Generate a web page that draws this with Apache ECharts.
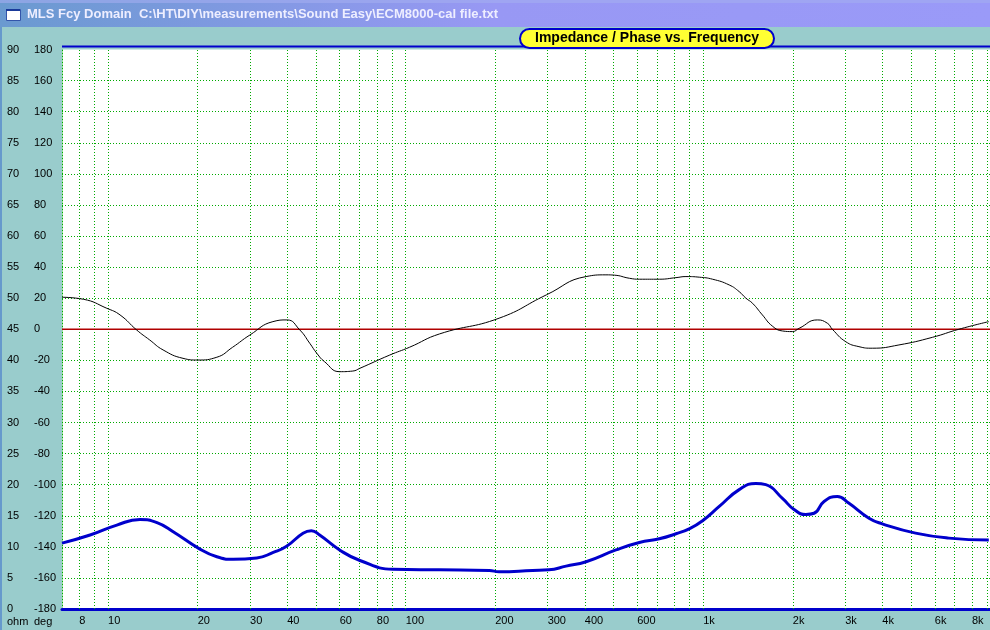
<!DOCTYPE html>
<html>
<head>
<meta charset="utf-8">
<script src="https://cdn.jsdelivr.net/npm/echarts@6/dist/echarts.min.js"></script>
<style>
html,body{margin:0;padding:0;background:#99cccc;}
#chart{width:990px;height:630px;}
</style>
</head>
<body>
<div id="chart"></div>
<script>
// Impedance (ohm, left scale) – thick blue trace
const impFreq = [7, 8.7, 10.7, 12.8, 14.6, 16.6, 20.1, 23.2, 26.3, 31.6, 35.9, 39.8, 45.2, 48.2, 51.4, 60, 70.2, 90.6, 130, 191, 206, 267, 303, 346, 404, 509, 610, 712, 810, 897, 995, 1132, 1321, 1502, 1623, 1846, 2020, 2211, 2358, 2547, 2823, 3090, 3606, 3997, 5172, 6692, 9115];
const impOhm = [10.6, 11.9, 13.5, 14.4, 13.9, 12.4, 9.8, 8.4, 8.0, 8.2, 9.1, 10.1, 12.2, 12.6, 11.9, 9.5, 7.8, 6.4, 6.3, 6.2, 6.0, 6.2, 6.3, 6.9, 7.6, 9.5, 10.7, 11.3, 12.1, 12.9, 14.2, 16.5, 19.2, 20.2, 20.0, 17.8, 16.0, 15.2, 15.4, 17.3, 18.1, 17.0, 14.6, 13.7, 12.2, 11.4, 11.1];

// Phase (deg, second scale) – thin black trace
const phaseFreq = [7, 8.26, 9.9, 10.97, 12.48, 13.8, 15.3, 17.85, 20, 23.2, 26.2, 29.96, 35.8, 39.9, 44.1, 47.6, 50.3, 53.4, 60, 66.4, 70.2, 88.4, 103, 130, 206, 297, 404, 471, 503, 565, 610, 712, 810, 875, 970, 1075, 1223, 1321, 1391, 1465, 1581, 1706, 1846, 1994, 2100, 2418, 2613, 2716, 3012, 3337, 3700, 4547, 5890, 7230, 9115];
const phaseDeg = [20.6, 19.3, 13.5, 9.2, -0.5, -6.9, -13.3, -18.7, -19.8, -18.0, -11.6, -3.7, 4.9, 6.0, -0.5, -9.0, -15.5, -20.9, -27.3, -26.9, -25.1, -16.6, -11.6, -3.0, 7.1, 22.1, 33.9, 35.0, 34.8, 32.8, 32.2, 32.2, 33.2, 33.9, 33.5, 32.2, 28.5, 24.2, 20.0, 16.7, 9.2, 2.1, -1.1, -1.5, 0.6, 6.0, 3.9, 0, -8.0, -11.2, -12.2, -10.1, -5.2, 0, 4.9];

// Frequency grid lines and tick labels
const gridFreqs = [8, 9, 10, 20, 30, 40, 50, 60, 70, 80, 90, 100, 200, 300, 400, 500, 600, 700, 800, 900, 1000, 2000, 3000, 4000, 5000, 6000, 7000, 8000, 9000];
const tickFreqs = [8, 10, 20, 30, 40, 60, 80, 100, 200, 300, 400, 600, 1000, 2000, 3000, 4000, 6000, 8000];
const tickLabels = ['8', '10', '20', '30', '40', '60', '80', '100', '200', '300', '400', '600', '1k', '2k', '3k', '4k', '6k', '8k'];
const zeroPhase = 0;

const FONT = '"Liberation Sans", Arial, sans-serif';
const GREEN = '#00aa00';
const RED = '#b00000';

const chart = echarts.init(document.getElementById('chart'), null, {renderer: 'canvas'});

const gridLineData = gridFreqs.map(f => {
  const k = tickFreqs.indexOf(f);
  return {
    xAxis: f,
    label: k >= 0 ? {show: true, formatter: tickLabels[k]} : {show: false}
  };
});

chart.setOption({
  animation: false,
  backgroundColor: '#99cccc',
  title: {
    text: 'Impedance / Phase vs. Frequency',
    left: 520, top: 29,
    padding: [2, 15, 2, 15],
    backgroundColor: '#ffff33',
    borderColor: '#0000cc',
    borderWidth: 2,
    borderRadius: 10,
    textStyle: {fontFamily: FONT, fontSize: 14, fontWeight: 'bold', color: '#000', lineHeight: 15},
    z: 20
  },
  grid: {left: 62, top: 49.5, width: 929, height: 559.5, show: true, backgroundColor: '#ffffff', borderWidth: 0},
  xAxis: {
    type: 'log', logBase: 10, min: 7, max: 9200,
    axisLine: {show: true, onZero: false, lineStyle: {color: '#0000cc', width: 3}},
    axisTick: {show: false}, axisLabel: {show: false}, splitLine: {show: false}
  },
  yAxis: [
    {
      type: 'value', min: 0, max: 90, interval: 5, position: 'left',
      axisLine: {show: true, onZero: false, lineStyle: {color: GREEN, type: [1, 2], width: 1}},
      axisTick: {show: false},
      axisLabel: {margin: 55, align: 'left', color: '#000', fontFamily: FONT, fontSize: 11, padding: [0, 0, 8, 0]},
      splitLine: {show: false}
    },
    {
      type: 'value', min: -180, max: 180, interval: 20, position: 'left',
      axisLine: {show: false, onZero: false}, axisTick: {show: false},
      axisLabel: {margin: 28, align: 'left', color: '#000', fontFamily: FONT, fontSize: 11, padding: [0, 0, 8, 0]},
      splitLine: {show: true, showMaxLine: false, lineStyle: {color: GREEN, type: [1, 2], width: 1}}
    }
  ],
  series: [
    {
      name: 'Impedance', type: 'line', yAxisIndex: 0, z: 4,
      data: impFreq.map((f, i) => [f, impOhm[i]]),
      showSymbol: false, smooth: 0.5,
      color: '#0000cc',
      lineStyle: {color: '#0000cc', width: 3},
      markLine: {
        silent: true, symbol: ['none', 'none'], z: 1,
        lineStyle: {color: GREEN, type: [1, 2], width: 1},
        label: {position: 'start', distance: 6, align: 'left', verticalAlign: 'top', color: '#000', fontFamily: FONT, fontSize: 11},
        emphasis: {disabled: true},
        data: gridLineData
      }
    },
    {
      name: 'Phase', type: 'line', yAxisIndex: 1, z: 3,
      data: phaseFreq.map((f, i) => [f, phaseDeg[i]]),
      showSymbol: false, smooth: 0.5,
      lineStyle: {color: '#000000', width: 1}
    },
    {
      name: 'PhaseZero', type: 'line', yAxisIndex: 1, z: 2,
      data: [[7, zeroPhase], [9200, zeroPhase]],
      showSymbol: false, silent: true,
      lineStyle: {color: RED, width: 1.3, type: 'solid'}
    }
  ],
  graphic: [
    {type: 'rect', left: 0, top: 0, z: 10, shape: {width: 990, height: 27},
      style: {fill: new echarts.graphic.LinearGradient(0, 0, 1, 0, [{offset: 0, color: '#6a9ad0'}, {offset: 0.5, color: '#9898f4'}, {offset: 1, color: '#9a9af8'}])}},
    {type: 'rect', left: 0, top: 0, z: 11, shape: {width: 990, height: 3}, style: {fill: '#a4aef0', opacity: 0.6}},
    {type: 'rect', left: 0, top: 27, z: 10, shape: {width: 2, height: 603}, style: {fill: '#6699cc'}},
    {type: 'rect', left: 6, top: 9, z: 12, shape: {width: 14, height: 11}, style: {fill: '#ffffff', stroke: '#3355aa', lineWidth: 1}},
    {type: 'rect', left: 6, top: 9, z: 13, shape: {width: 14, height: 2}, style: {fill: '#1a3a9a'}},
    {type: 'text', left: 27, top: 8, z: 12,
      style: {text: 'MLS Fcy Domain  C:\\HT\\DIY\\measurements\\Sound Easy\\ECM8000-cal file.txt', fill: '#eeeeff', font: 'bold 13px "Liberation Sans", Arial, sans-serif'}},
    {type: 'rect', left: 62, top: 45.5, z: 9, shape: {width: 930, height: 2}, style: {fill: '#0000cc'}},
    {type: 'text', left: 7, top: 616, z: 12, style: {text: 'ohm', fill: '#000', font: '11px "Liberation Sans", Arial, sans-serif'}},
    {type: 'text', left: 34, top: 616, z: 12, style: {text: 'deg', fill: '#000', font: '11px "Liberation Sans", Arial, sans-serif'}}
  ]
});
</script>
</body>
</html>
